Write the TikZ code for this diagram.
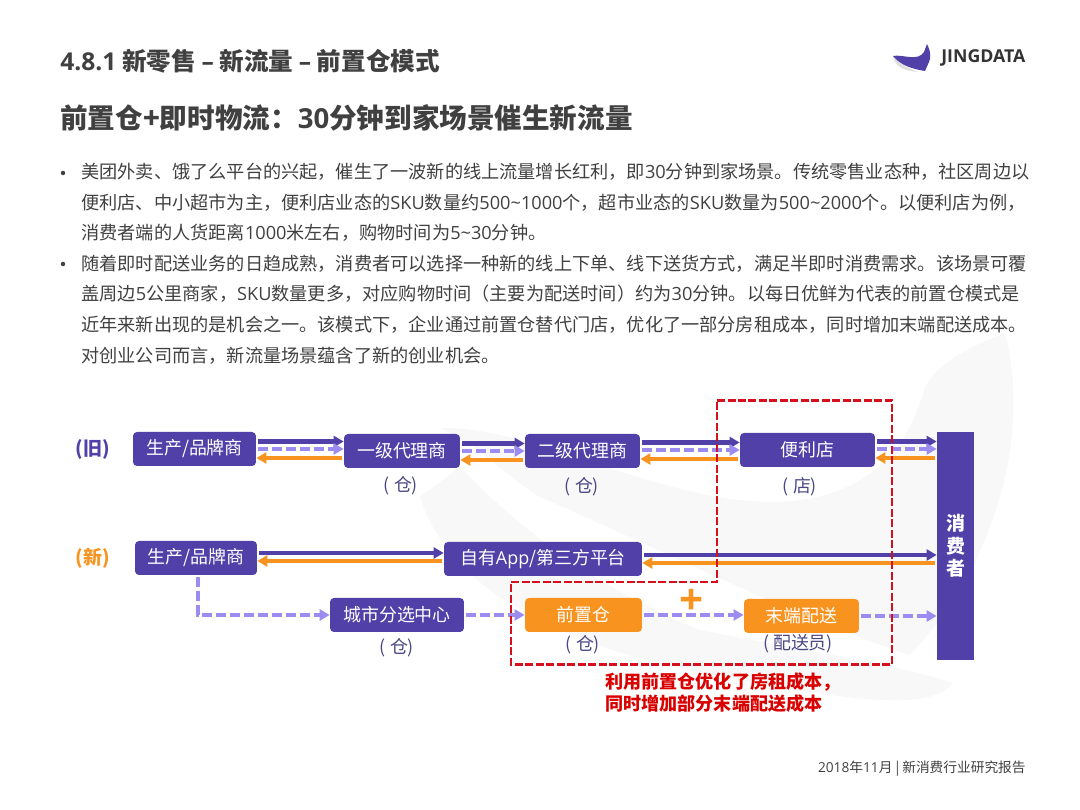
\documentclass[tikz,border=0pt]{standalone}
\usepackage{fontspec}
\usepackage{tikz}
\usetikzlibrary{positioning, calc, arrows.meta}
\setmainfont{Noto Sans CJK SC}
\newfontfamily\latinfont{Open Sans}
\definecolor{JDpurple}{HTML}{5040A8}
\definecolor{JDlilac}{HTML}{9C8CF0}
\definecolor{JDorange}{HTML}{F8931F}
\definecolor{JDred}{HTML}{D5101C}
\definecolor{JDtext}{HTML}{404040}
\definecolor{JDnote}{HTML}{4B4785}
\definecolor{JDmark}{HTML}{F8F8F8}
\newcommand{\lat}[1]{{\latinfont #1}}
% three arrows between two boxes, #3 = vertical offset of the group
\newcommand{\flowtriple}[3]{%
    \draw[solidflow] ([yshift=#3+0.15cm]#1.east) -- ([yshift=#3+0.15cm]#1.east -| #2.west);
    \draw[dashflow] ([yshift=#3]#1.east) -- ([yshift=#3]#1.east -| #2.west);
    \draw[backflow] ([yshift=#3-0.18cm]#1.east -| #2.west) -- ([yshift=#3-0.18cm]#1.east);
}
% two arrows between two boxes
\newcommand{\flowpair}[3]{%
    \draw[solidflow] ([yshift=#3+0.08cm]#1.east) -- ([yshift=#3+0.08cm]#1.east -| #2.west);
    \draw[backflow] ([yshift=#3-0.08cm]#1.east -| #2.west) -- ([yshift=#3-0.08cm]#1.east);
}
\begin{document}
\begin{tikzpicture}[
    x=0.02cm, y=-0.02cm,
    flowbox/.style={fill=JDpurple, text=white, rounded corners=0.08cm,
                    minimum height=0.68cm, inner sep=0pt,
                    font=\fontsize{10.2}{12}\selectfont},
    hotbox/.style={flowbox, fill=JDorange},
    solidflow/.style={draw=JDpurple, line width=0.085cm, shorten <=1pt,
                      -{Triangle[length=0.2cm, width=0.22cm]}},
    dashflow/.style={draw=JDlilac, line width=0.09cm, dash pattern=on 0.2cm off 0.08cm,
                     shorten <=1pt, -{Triangle[length=0.2cm, width=0.22cm]}},
    backflow/.style={draw=JDorange, line width=0.08cm, shorten <=1pt,
                     -{Triangle[length=0.2cm, width=0.22cm]}},
    notelabel/.style={text=JDnote, inner sep=0pt, font=\fontsize{10.2}{12}\selectfont},
    bodyline/.style={anchor=west, text=JDtext, inner sep=0pt, font=\fontsize{10.35}{12}\selectfont},
    bulletdot/.style={circle, fill=JDtext, minimum size=0.09cm, inner sep=0pt},
]
\useasboundingbox (0,0) rectangle (1080,810);

% --- Watermark behind everything ---
\fill[JDmark] (1005,333) .. controls (1030,430) and (1000,560) .. (910,655)
    .. controls (800,620) and (640,540) .. (540,497)
    .. controls (510,480) and (480,445) .. (440,428)
    .. controls (520,425) and (640,490) .. (740,500)
    .. controls (830,510) and (900,480) .. (925,387)
    .. controls (940,360) and (975,345) .. (1005,333) -- cycle;
\fill[JDmark] (420,497) .. controls (450,590) and (560,650) .. (740,680)
    .. controls (850,700) and (930,712) .. (953,683)
    .. controls (900,665) and (800,650) .. (700,630)
    .. controls (600,590) and (520,530) .. (460,467) -- cycle;

% --- Headings ---
\node[anchor=west, text=JDtext, inner sep=0pt, font=\fontsize{14}{16}\selectfont\bfseries] (heading) at (60,61)
    {\lat{4.8.1} 新零售 \lat{–} 新流量 \lat{–} 前置仓模式};
\node[anchor=west, text=JDtext, inner sep=0pt, font=\fontsize{15.7}{18}\selectfont\bfseries] (subheading) at (60,118)
    {前置仓+即时物流：\lat{30}分钟到家场景催生新流量};

% --- Logo ---
\fill[gray!25] (893,57) .. controls (895,67) and (905,71) .. (918,72)
    .. controls (908,68) and (900,64) .. (893,57) -- cycle;
\fill[JDpurple] (893,56) .. controls (902,54) and (918,62) .. (924,52)
    -- (927,44) .. controls (931,52) and (931,58) .. (929,62)
    -- (925,71) .. controls (912,69) and (900,65) .. (893,56) -- cycle;
\node[anchor=west, text=JDtext!80!black, inner sep=0pt, font=\latinfont\fontsize{10.1}{12}\selectfont\bfseries] (logoname) at (941,58) {JINGDATA};

% --- Body text ---
\node[bulletdot] (dotA) at (63,173) {};
\node[bulletdot] (dotB) at (63,264) {};
\node[bodyline] (lineA) at (81,172) {美团外卖、饿了么平台的兴起，催生了一波新的线上流量增长红利，即\lat{30}分钟到家场景。传统零售业态种，社区周边以};
\node[bodyline] (lineB) at (81,203) {便利店、中小超市为主，便利店业态的\lat{SKU}数量约\lat{500\string~1000}个，超市业态的\lat{SKU}数量为\lat{500\string~2000}个。以便利店为例，};
\node[bodyline] (lineC) at (81,233) {消费者端的人货距离\lat{1000}米左右，购物时间为\lat{5\string~30}分钟。};
\node[bodyline] (lineD) at (81,264) {随着即时配送业务的日趋成熟，消费者可以选择一种新的线上下单、线下送货方式，满足半即时消费需求。该场景可覆};
\node[bodyline] (lineE) at (81,294) {盖周边\lat{5}公里商家，\lat{SKU}数量更多，对应购物时间（主要为配送时间）约为\lat{30}分钟。以每日优鲜为代表的前置仓模式是};
\node[bodyline] (lineF) at (81,325) {近年来新出现的是机会之一。该模式下，企业通过前置仓替代门店，优化了一部分房租成本，同时增加末端配送成本。};
\node[bodyline] (lineG) at (81,356) {对创业公司而言，新流量场景蕴含了新的创业机会。};

% --- Row labels ---
\node[text=JDpurple, inner sep=0pt, font=\fontsize{10.8}{12}\selectfont\bfseries] (oldtag) at (93,449) {(旧)};
\node[text=JDorange, inner sep=0pt, font=\fontsize{10.8}{12}\selectfont\bfseries] (newtag) at (93,558) {(新)};

% --- Old chain ---
\node[flowbox, minimum width=2.46cm] (oldmaker) at (194.5,449) {生产/品牌商};
\node[flowbox, minimum width=2.32cm] (agentA) at (402,451) {一级代理商};
\node[flowbox, minimum width=2.30cm] (agentB) at (582.5,451) {二级代理商};
\node[flowbox, minimum width=2.70cm] (store) at (807.5,450) {便利店};
\node[flowbox, rounded corners=0pt, minimum width=0.74cm, minimum height=4.56cm, align=center,
      font=\fontsize{10.8}{12.8}\selectfont\bfseries] (buyer) at (955.5,546) {消\\费\\者};

% --- New chain ---
\node[flowbox, minimum width=2.44cm] (newmaker) at (196,558) {生产/品牌商};
\node[flowbox, minimum width=3.96cm] (platform) at (543,559) {自有\lat{App}/第三方平台};
\node[flowbox, minimum width=2.68cm] (sorting) at (397,615) {城市分选中心};
\node[hotbox, minimum width=2.34cm] (frontbox) at (583.5,615) {前置仓};
\node[hotbox, minimum width=2.30cm] (lastmile) at (801.5,616) {末端配送};

% --- Notes under the boxes ---
\node[notelabel] (noteA) at (401,486) {( 仓)};
\node[notelabel] (noteB) at (582,487) {( 仓)};
\node[notelabel] (noteC) at (800,487) {( 店)};
\node[notelabel] (noteD) at (397,648) {( 仓)};
\node[notelabel] (noteE) at (583,645) {( 仓)};
\node[notelabel] (noteF) at (798,644) {( 配送员)};

% --- Flows ---
\flowtriple{oldmaker}{agentA}{0cm}
\flowtriple{agentA}{agentB}{0cm}
\flowtriple{agentB}{store}{0.02cm}
\flowtriple{store}{buyer}{0.02cm}
\flowpair{newmaker}{platform}{0.02cm}
\flowpair{platform}{buyer}{0cm}
\draw[dashflow] (newmaker.south -| 198,0) |- (sorting.west);
\draw[dashflow] (sorting.east) -- (sorting.east -| frontbox.west);
\draw[dashflow] (frontbox.east) -- (frontbox.east -| lastmile.west);
\draw[dashflow] (lastmile.east) -- (lastmile.east -| buyer.west);

% --- Plus sign and red frame ---
\node[text=JDorange, inner sep=0pt, font=\latinfont\fontsize{24}{24}\selectfont\bfseries] (plus) at (692,602) {+};
\draw[JDred, line width=0.055cm, dash pattern=on 0.16cm off 0.05cm]
    (717,400.5) -- (892,400.5) -- (892,664.5) -- (511,664.5) -- (511,582) -- (717,582) -- cycle;
\node[anchor=west, text=red!85!black, inner sep=0pt, font=\fontsize{10.3}{12}\selectfont\bfseries] (captionA) at (605,682) {利用前置仓优化了房租成本，};
\node[anchor=west, text=red!85!black, inner sep=0pt, font=\fontsize{10.3}{12}\selectfont\bfseries] (captionB) at (605,704) {同时增加部分末端配送成本};

% --- Footer ---
\node[anchor=east, text=JDtext, inner sep=0pt, font=\fontsize{7.8}{10}\selectfont] (footer) at (1026,769) {\lat{2018}年\lat{11}月 | 新消费行业研究报告};
\end{tikzpicture}
\end{document}
